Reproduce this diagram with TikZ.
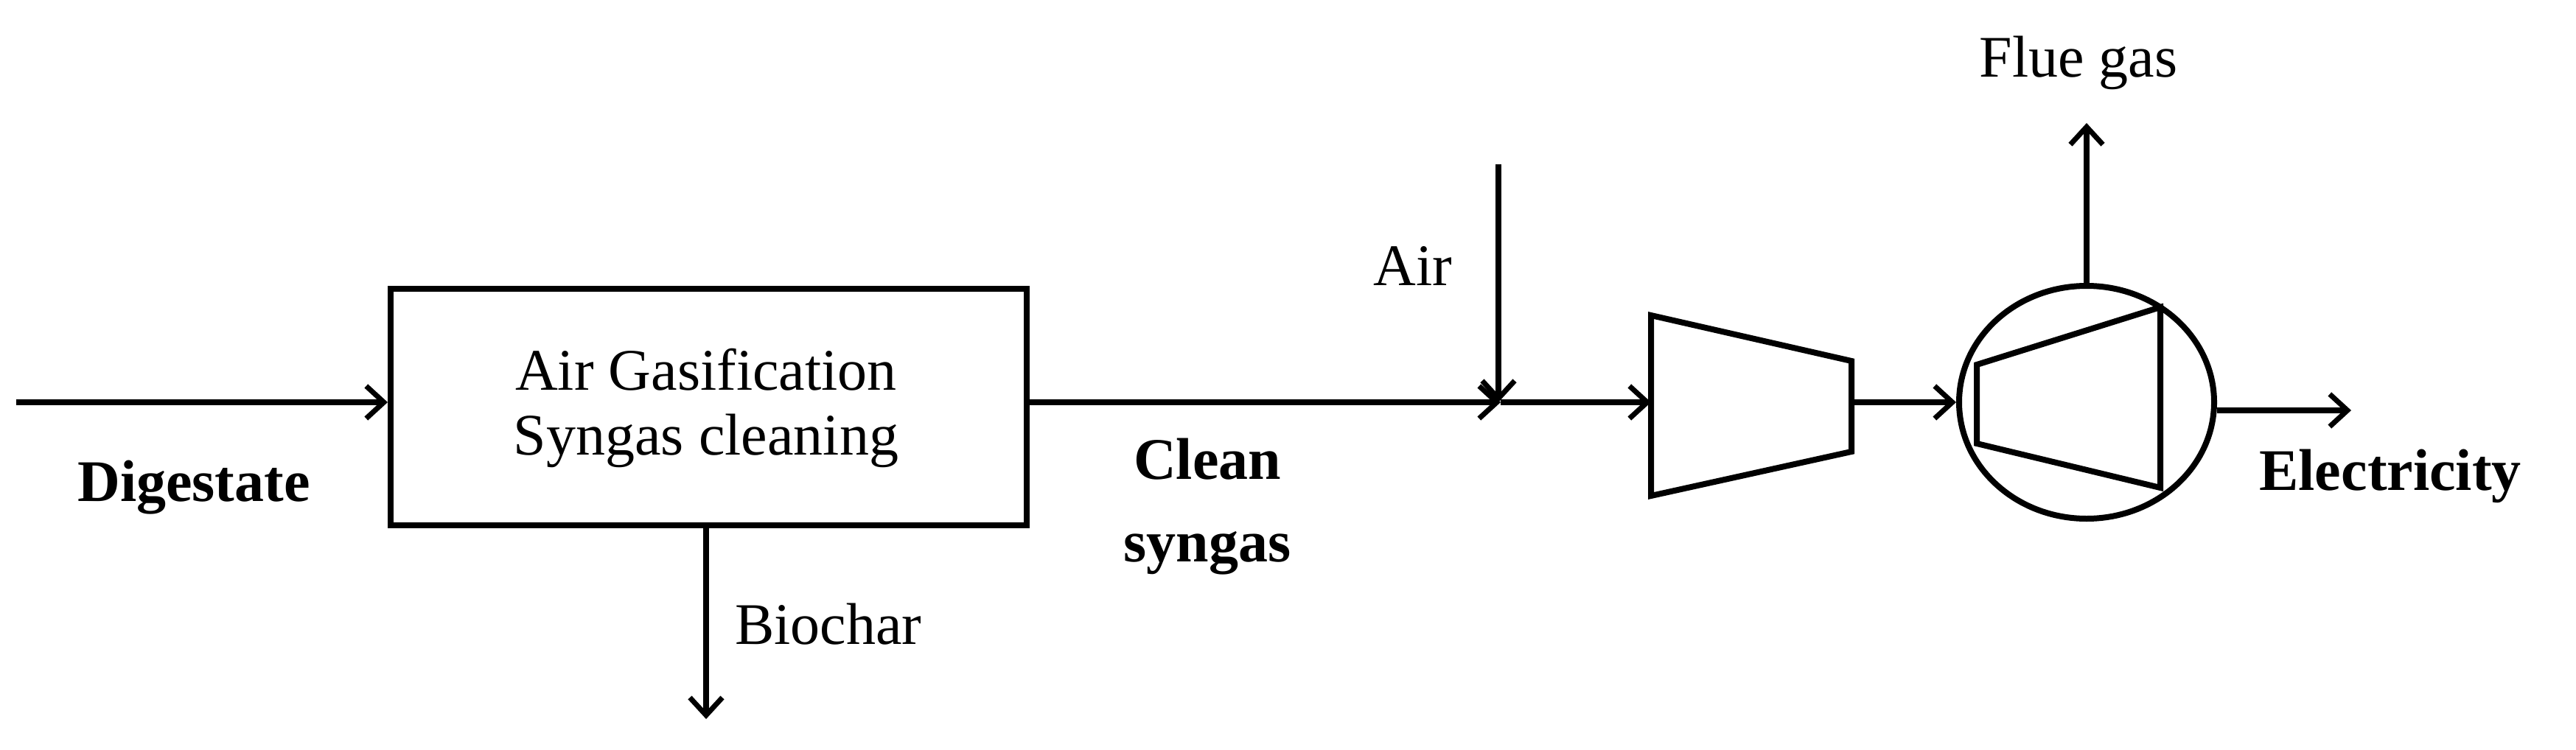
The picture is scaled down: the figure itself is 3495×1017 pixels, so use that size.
\documentclass[tikz,border=0pt]{standalone}
\usepackage{fontspec}
\setmainfont{Liberation Serif}
\usetikzlibrary{arrows.meta,shapes.geometric}
\begin{document}
\begin{tikzpicture}[x=1pt,y=-1pt,line width=8pt,
  flow/.style={-{Straight Barb[length=24pt,width=44pt,line width=7pt]}},
  lbl/.style={font=\fontsize{80}{96}\selectfont,align=center,inner sep=0pt},
  blbl/.style={lbl,font=\fontsize{80}{112}\selectfont\bfseries}]
\useasboundingbox (0,0) rectangle (3495,1017);
\node[draw,minimum width=863pt,minimum height=321pt,inner sep=0pt] (box) at (961.5,552.5) {};
\node[lbl] at (958,502) {Air Gasification};
\node[lbl] at (958,598) {Syngas cleaning};
\coordinate (din) at (22,546);
\draw[flow] (din) -- (box.west |- din);
\node[blbl] at (263,662) {Digestate};
\coordinate (bc) at (958,976);
\draw[flow] (box.south -| bc) -- (bc);
\node[lbl,anchor=west] at (993,847) {Biochar};
\coordinate (mix) at (2036,546);
\draw[flow] (box.east |- mix) -- (mix);
\node[blbl] at (1638,688) {Clean\\syngas};
\coordinate (airin) at (2033,223);
\draw[flow] (airin) -- (2033,546);
\node[lbl] at (1917,361) {Air};
% compressor
\coordinate (c1) at (2240,546);
\draw (2240,428) -- (2512,490) -- (2512,613) -- (2240,673) -- cycle;
\draw[flow] (mix) -- (c1);
\coordinate (c2) at (2512,546);
\node[draw,ellipse,minimum width=346pt,minimum height=316pt,inner sep=0pt] (gt) at (2831,546) {};
\draw[flow] (c2) -- (gt.west);
\draw (2682,495) -- (2931,417) -- (2931,662) -- (2682,602) -- cycle;
\coordinate (fg) at (2831,167);
\draw[flow] (gt.north) -- (fg);
\node[lbl] at (2820,85) {Flue gas};
\coordinate (el) at (3190,557);
\draw[flow] (gt.east |- el) -- (el);
\node[blbl] at (3243,646) {Electricity};
\end{tikzpicture}
\end{document}
